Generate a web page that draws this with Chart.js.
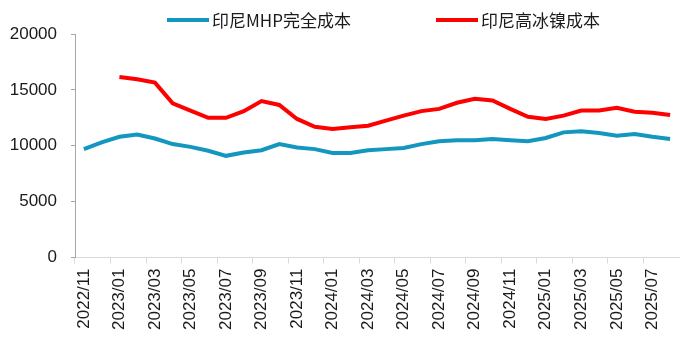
<!DOCTYPE html>
<html>
<head>
<meta charset="utf-8">
<script src="https://cdn.jsdelivr.net/npm/chart.js@4"></script>
<style>
    html, body { margin: 0; padding: 0; background: #fff; }
    #wrap { position: relative; width: 684px; height: 344px; }
    #legend { position: absolute; left: 0; top: 0; width: 684px; height: 34px; font-family: "Noto Sans CJK SC", "Noto Sans", sans-serif; font-size: 17px; color: #1a1a1a; }
    .item { position: absolute; top: 8px; display: flex; align-items: center; line-height: 24px; white-space: nowrap; }
    .swatch { display: inline-block; width: 42px; height: 4px; margin-right: 3px; }
</style>
</head>
<body>
<div id="wrap">
    <canvas id="chart" width="684" height="344"></canvas>
    <div id="legend"></div>
</div>
<script>
    // months shown on the category axis
    const months = [
        '2022/11', '2022/12',
        '2023/01', '2023/02', '2023/03', '2023/04', '2023/05', '2023/06',
        '2023/07', '2023/08', '2023/09', '2023/10', '2023/11', '2023/12',
        '2024/01', '2024/02', '2024/03', '2024/04', '2024/05', '2024/06',
        '2024/07', '2024/08', '2024/09', '2024/10', '2024/11', '2024/12',
        '2025/01', '2025/02', '2025/03', '2025/04', '2025/05', '2025/06',
        '2025/07', '2025/08'
    ];

    const seriesNames = ['印尼MHP完全成本', '印尼高冰镍成本'];
    const seriesColors = ['#1497bf', '#ff0000'];

    // 印尼MHP完全成本
    const mhpCost = [
        9700, 10300, 10800, 11000, 10650, 10150, 9900, 9550, 9100, 9400,
        9600, 10150, 9850, 9700, 9350, 9350, 9600, 9700, 9800, 10150,
        10400, 10500, 10500, 10600, 10500, 10400, 10700, 11200, 11300, 11150,
        10900, 11050, 10800, 10600
    ];

    // 印尼高冰镍成本 (starts 2023/01)
    const matteCost = [
        null, null, 16150, 15950, 15650, 13800, 13150, 12500, 12500, 13100,
        14000, 13650, 12400, 11700, 11500, 11650, 11800, 12250, 12700, 13100,
        13300, 13850, 14200, 14050, 13300, 12600, 12400, 12700, 13150, 13150,
        13400, 13050, 12950, 12750
    ];

    const yTicks = [0, 5000, 10000, 15000, 20000];

    // legend as plain html so the gap between items can be set freely
    const legendEl = document.getElementById('legend');
    const legendLeft = [167, 436];
    seriesNames.forEach((name, i) => {
        const item = document.createElement('div');
        item.className = 'item';
        item.style.left = legendLeft[i] + 'px';
        const sw = document.createElement('span');
        sw.className = 'swatch';
        sw.style.background = seriesColors[i];
        const txt = document.createElement('span');
        txt.textContent = name;
        item.appendChild(sw);
        item.appendChild(txt);
        legendEl.appendChild(item);
    });

    Chart.defaults.font.family = '"Liberation Sans", "Noto Sans CJK SC", sans-serif';
    Chart.defaults.font.size = 17;
    Chart.defaults.color = '#1a1a1a';

    const ctx = document.getElementById('chart').getContext('2d');
    new Chart(ctx, {
        type: 'line',
        data: {
            labels: months,
            datasets: [
                {
                    label: seriesNames[0],
                    data: mhpCost,
                    borderColor: seriesColors[0],
                    backgroundColor: seriesColors[0],
                    borderWidth: 4,
                    pointRadius: 0,
                    tension: 0,
                    fill: false
                },
                {
                    label: seriesNames[1],
                    data: matteCost,
                    borderColor: seriesColors[1],
                    backgroundColor: seriesColors[1],
                    borderWidth: 4,
                    pointRadius: 0,
                    tension: 0,
                    fill: false,
                    spanGaps: false
                }
            ]
        },
        options: {
            responsive: false,
            animation: false,
            layout: { padding: { left: 10, right: 5, top: 34, bottom: 9 } },
            plugins: {
                legend: { display: false },
                tooltip: { enabled: false }
            },
            scales: {
                x: {
                    offset: true,
                    // rotated labels sit inside their categories, no side overflow needed
                    afterFit: (axis) => { axis.paddingLeft = 0; axis.paddingRight = 0; },
                    grid: {
                        offset: true,
                        drawOnChartArea: false,
                        tickLength: 6,
                        color: (c) => (c.index % 2 === 0 ? '#d9d9d9' : 'rgba(0,0,0,0)')
                    },
                    border: { color: '#d9d9d9' },
                    ticks: {
                        autoSkip: false,
                        minRotation: 90,
                        maxRotation: 90,
                        padding: 5,
                        callback: (v, i) => (i % 2 === 0 ? months[i] : '')
                    }
                },
                y: {
                    min: yTicks[0],
                    max: yTicks[yTicks.length - 1],
                    afterBuildTicks: (axis) => { axis.ticks = yTicks.map(v => ({ value: v })); },
                    // padding is counted twice by fit(), pin the width instead
                    afterFit: (axis) => { axis.width = 65; },
                    grid: { drawOnChartArea: false, tickLength: 4, color: '#a6a6a6' },
                    border: { color: '#a6a6a6' },
                    ticks: { padding: 14, callback: (v) => String(v) }
                }
            }
        }
    });
</script>
</body>
</html>
